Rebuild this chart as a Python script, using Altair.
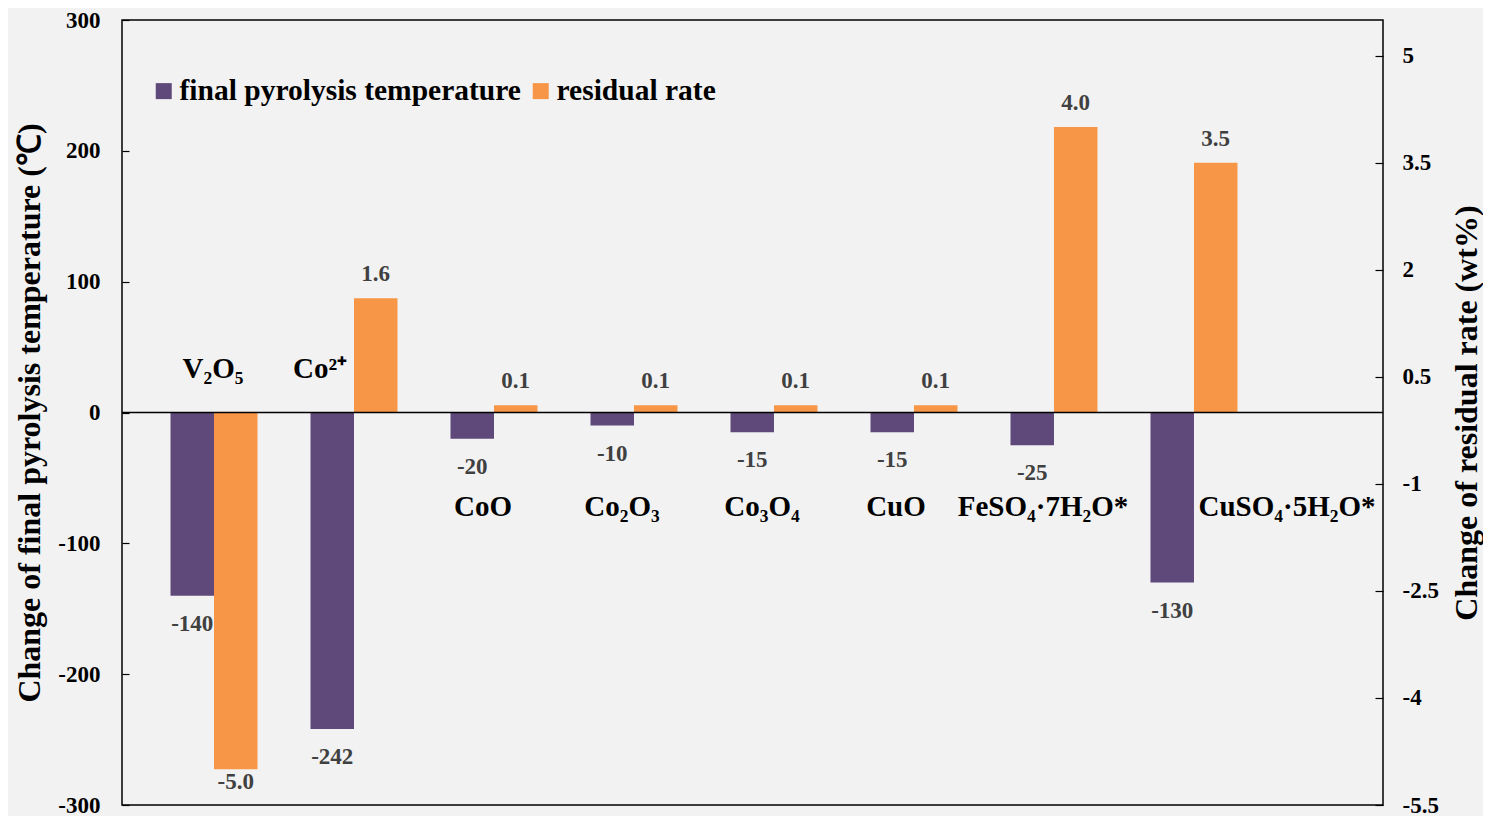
import altair as alt
import pandas as pd

# ---------------- data ----------------
categories = ["V₂O₅", "Co²⁺", "CoO", "Co₂O₃", "Co₃O₄", "CuO", "FeSO₄·7H₂O*", "CuSO₄·5H₂O*"]
temp_change = [-140, -242, -20, -10, -15, -15, -25, -130]
residual_change = [-5.0, 1.6, 0.1, 0.1, 0.1, 0.1, 4.0, 3.5]
series_names = ["final pyrolysis temperature", "residual rate"]
temp_ticks = [-300, -200, -100, 0, 100, 200, 300]
residual_ticks = [-5.5, -4, -2.5, -1, 0.5, 2, 3.5, 5]

# ---------------- styling / placement ----------------
FONT = "Liberation Serif"
PURPLE = "#5F497A"
ORANGE = "#F79646"
VALUE_COLOR = "#404040"
# category name annotations: (horizontal shift in px, anchor in temperature units)
name_placement = [(-1, 33), (-34, 33), (-11, -72), (-12, -72), (-12, -72), (-18, -72), (-11, -72), (93, -72)]

temp_df = pd.DataFrame({
    "category": categories,
    "series": series_names[0],
    "temp": temp_change,
    "label": [str(v) for v in temp_change],
})
res_df = pd.DataFrame({
    "category": categories,
    "series": series_names[1],
    "resid": residual_change,
    "label": [f"{v:.1f}" for v in residual_change],
})

x_enc = alt.X(
    "category:N",
    sort=categories,
    scale=alt.Scale(domain=categories, paddingInner=0.3786, paddingOuter=0.693, align=0.25),
    axis=None,
)
xoff = alt.XOffset("series:N", scale=alt.Scale(domain=series_names, paddingInner=0, paddingOuter=0))

legend = alt.Legend(
    title=None, orient="none", legendX=27, legendY=56, direction="horizontal",
    symbolType="square", symbolSize=256, symbolStrokeWidth=0, symbolOpacity=1,
    labelFont=FONT, labelFontSize=29.5, labelFontWeight="bold", labelColor="black",
    labelOffset=1, columnPadding=5, padding=0, labelLimit=0,
)
color = alt.Color("series:N", scale=alt.Scale(domain=series_names, range=[PURPLE, ORANGE]), legend=legend)

MINUS_FIX = "replace(format(datum.value, '.1~f'), '\u2212', '-')"

temp_scale = alt.Scale(domain=[-300, 300], nice=False)
temp_axis = alt.Axis(
    values=temp_ticks, orient="left", title="Change of final pyrolysis temperature (℃)",
    grid=False, domain=False, offset=-7, tickSize=7, tickColor="black", tickWidth=1.2,
    labelPadding=22, labelFont=FONT, labelFontSize=23, labelFontWeight="bold", labelColor="black",
    labelExpr=MINUS_FIX, labelFlush=False,
    titleFont=FONT, titleFontSize=32, titleFontWeight="bold", titleColor="black", titlePadding=11,
)
res_scale = alt.Scale(domain=[-5.5, 5.5], nice=False)
res_axis = alt.Axis(
    values=residual_ticks, orient="right", title="Change of residual rate (wt%)",
    grid=False, domain=False, offset=-8, tickSize=8, tickColor="black", tickWidth=1.2,
    labelPadding=19, labelFont=FONT, labelFontSize=23, labelFontWeight="bold", labelColor="black",
    labelExpr=MINUS_FIX, labelFlush=False,
    titleFont=FONT, titleFontSize=32, titleFontWeight="bold", titleColor="black",
    titlePadding=13, titleAngle=270, titleBaseline="top",
)

y_temp = alt.Y("temp:Q", scale=temp_scale, axis=temp_axis)
y_res = alt.Y("resid:Q", scale=res_scale, axis=res_axis)

# ---------------- temperature layer ----------------
temp_bars = alt.Chart(temp_df).mark_bar().encode(x=x_enc, xOffset=xoff, y=y_temp, color=color)
temp_text = alt.Chart(temp_df).mark_text(
    dy=28, font=FONT, fontSize=23, fontWeight="bold", color=VALUE_COLOR, baseline="middle"
).encode(x=x_enc, xOffset=xoff, y=y_temp, text="label:N")

name_layers = []
for cat, (dx, yv) in zip(categories, name_placement):
    df = pd.DataFrame({"category": [cat], "temp": [yv], "name": [cat]})
    name_layers.append(
        alt.Chart(df).mark_text(
            dx=dx, font=FONT, fontSize=29, fontWeight="bold", color="black", baseline="middle"
        ).encode(x=x_enc, y=y_temp, text="name:N")
    )

temp_layer = alt.layer(temp_bars, temp_text, *name_layers)

# ---------------- residual layer ----------------
res_bars = alt.Chart(res_df).mark_bar().encode(x=x_enc, xOffset=xoff, y=y_res, color=color)
res_text_pos = alt.Chart(res_df).transform_filter("datum.resid > 0").mark_text(
    dy=-24, font=FONT, fontSize=23, fontWeight="bold", color=VALUE_COLOR, baseline="middle"
).encode(x=x_enc, xOffset=xoff, y=y_res, text="label:N")
res_text_neg = alt.Chart(res_df).transform_filter("datum.resid < 0").mark_text(
    dy=13, font=FONT, fontSize=23, fontWeight="bold", color=VALUE_COLOR, baseline="middle"
).encode(x=x_enc, xOffset=xoff, y=y_res, text="label:N")
zero_rule = alt.Chart(pd.DataFrame({"resid": [0]})).mark_rule(color="black", strokeWidth=1.5).encode(y=y_res)

res_layer = alt.layer(res_bars, res_text_pos, res_text_neg, zero_rule)

chart = (
    alt.layer(temp_layer, res_layer)
    .resolve_scale(y="independent")
    .properties(
        width=1261, height=785,
        padding={"left": 114, "top": 12, "right": 100, "bottom": 11},
        autosize=alt.AutoSizeParams(type="none"),
        background="#f2f2f2",
    )
    .configure_view(stroke="black", strokeWidth=1.5)
)

chart.save("out.html", embed_options={"renderer": "svg", "actions": False})
